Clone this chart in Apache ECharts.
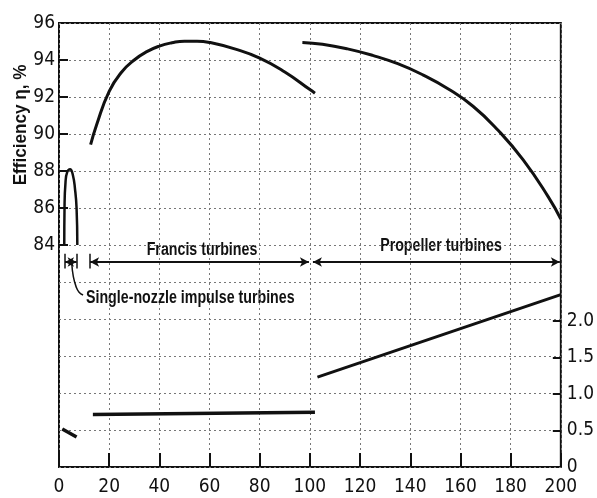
<!DOCTYPE html>
<html>
<head>
<meta charset="utf-8">
<script src="https://cdn.jsdelivr.net/npm/echarts@6/dist/echarts.min.js"></script>
<style>
  html, body { margin: 0; padding: 0; background: #fff; }
  #chart { width: 597px; height: 498px; }
</style>
</head>
<body>
<div id="chart"></div>
<script>
// efficiency curves (left axis, %)
const impulseEff = [[2.1, 84], [2.2, 86], [2.6, 87.4], [3.3, 87.95], [4.4, 88.1], [5.5, 87.8], [6.4, 87], [7.0, 86], [7.3, 84]];
const francisEff = [[12.6, 89.42], [15, 90.5], [20, 92.3], [25, 93.35], [30, 94.0], [35, 94.45], [40, 94.75], [45, 94.93], [50, 95.02], [55, 95.02], [60, 94.95], [70, 94.6], [80, 94.1], [90, 93.35], [100, 92.4], [102, 92.2]];
const propellerEff = [[97, 94.95], [105, 94.85], [115, 94.6], [125, 94.25], [135, 93.8], [145, 93.2], [155, 92.45], [165, 91.5], [175, 90.2], [185, 88.6], [195, 86.6], [200, 85.4]];
// lower curves (right axis)
const impulseLow = [[1.3, 0.52], [7, 0.41]];
const francisLow = [[13.5, 0.72], [102, 0.75]];
const propellerLow = [[103, 1.23], [200, 2.36]];
// range markers
const rangeY = 83.08;
const rangeBars = [2.2, 7.2, 12.2];
const leader = [[5.1, 83.0], [5.7, 82.3], [6.8, 81.75], [8.0, 81.45], [9.6, 81.3]];

const leftLabels = [84, 86, 88, 90, 92, 94, 96];
const leftTicks = [84, 86, 88, 90, 92, 94];
const rightLabels = [0, 0.5, 1.0, 1.5, 2.0];

const font = "'DejaVu Sans Condensed', 'Liberation Sans', sans-serif";
const noteFont = "bold 18px 'Liberation Sans', Arial, sans-serif";
const ink = '#111';

const chart = echarts.init(document.getElementById('chart'));

function curve(data, yIdx, w) {
  return {
    type: 'line', data: data, yAxisIndex: yIdx, smooth: true, symbol: 'none',
    lineStyle: { color: ink, width: w || 3 }, silent: true, z: 5
  };
}

function note(text, x, y, align, sx, rot) {
  return {
    type: 'text', x: x, y: y, rotation: rot || 0, scaleX: sx,
    style: { text: text, fill: ink, font: noteFont, textAlign: align, textVerticalAlign: 'middle' }
  };
}

const barLines = rangeBars.map(function (x) {
  return [{ coord: [x, rangeY + 0.45] }, { coord: [x, rangeY - 0.35] }];
});

chart.setOption({
  animation: false,
  grid: { left: 59, right: 31, top: 23, bottom: 31, show: true, borderColor: ink, borderWidth: 2 },
  xAxis: {
    type: 'value', min: 0, max: 200, interval: 20,
    axisLine: { show: false },
    axisTick: { inside: true, length: 14, lineStyle: { color: ink, width: 2 } },
    axisLabel: { color: ink, fontSize: 19, fontFamily: font, margin: 11 },
    splitLine: { show: true, lineStyle: { color: '#777', type: [2, 3], width: 1 } }
  },
  yAxis: [
    {
      type: 'value', min: 72, max: 96, position: 'left',
      axisLine: { show: false },
      axisTick: { inside: true, length: 9, customValues: leftTicks, lineStyle: { color: ink, width: 2 } },
      axisLabel: { color: ink, fontSize: 19, fontFamily: font, margin: 4, customValues: leftLabels },
      splitLine: { show: false }
    },
    {
      type: 'value', min: 0, max: 6.08, position: 'right',
      axisLine: { show: false },
      axisTick: { inside: true, length: 8, customValues: [0.5, 1.0, 1.5, 2.0], lineStyle: { color: ink, width: 2 } },
      axisLabel: {
        color: ink, fontSize: 19, fontFamily: font, margin: 6, customValues: rightLabels,
        formatter: function (v) { return v === 0 ? '0' : v.toFixed(1); }
      },
      splitLine: { show: false }
    },
    {
      type: 'value', min: 72, max: 96, interval: 2, position: 'left',
      axisLine: { show: false }, axisTick: { show: false }, axisLabel: { show: false },
      splitLine: { show: true, lineStyle: { color: '#777', type: [2, 3], width: 1 } }
    }
  ],
  series: [
    curve(impulseEff, 0, 2.5),
    curve(francisEff, 0),
    curve(propellerEff, 0),
    curve(impulseLow, 1, 3.5),
    curve(francisLow, 1, 3.5),
    curve(propellerLow, 1, 3),
    curve(leader, 0, 1.5),
    {
      type: 'line', data: [], yAxisIndex: 0, silent: true,
      markLine: {
        silent: true, animation: false, symbol: ['arrow', 'arrow'], symbolSize: [7, 9],
        label: { show: false },
        lineStyle: { color: ink, width: 2, type: 'solid' },
        data: [
          [{ coord: [2.4, rangeY] }, { coord: [7.0, rangeY] }],
          [{ coord: [12.4, rangeY] }, { coord: [99.6, rangeY] }],
          [{ coord: [101.2, rangeY] }, { coord: [199.6, rangeY] }]
        ]
      }
    },
    {
      type: 'line', data: [], yAxisIndex: 0, silent: true,
      markLine: {
        silent: true, animation: false, symbol: ['none', 'none'],
        label: { show: false },
        lineStyle: { color: ink, width: 1.5, type: 'solid' },
        data: barLines
      }
    }
  ],
  graphic: [
    note('Efficiency η, %', 21, 125, 'center', 0.95, Math.PI / 2),
    note('Francis turbines', 202, 250, 'center', 0.79),
    note('Propeller turbines', 441, 246, 'center', 0.79),
    note('Single-nozzle impulse turbines', 86, 298, 'left', 0.79)
  ]
});
</script>
</body>
</html>
